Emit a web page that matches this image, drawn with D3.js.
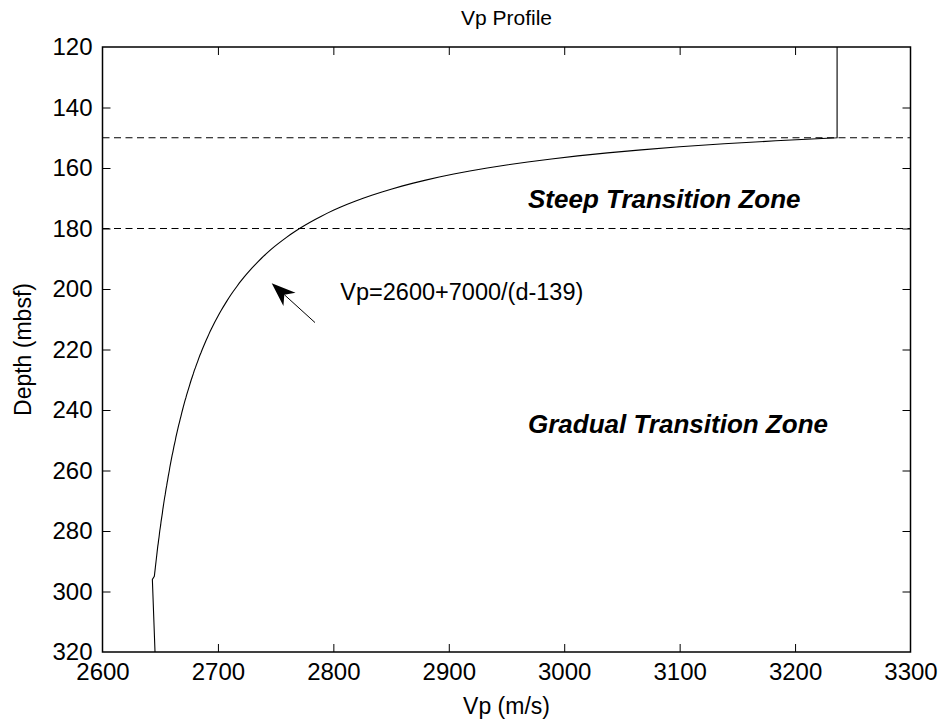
<!DOCTYPE html>
<html>
<head>
<meta charset="utf-8">
<script src="https://cdn.jsdelivr.net/npm/d3@7"></script>
<style>
  html, body { margin: 0; padding: 0; background: #fff; }
  svg { display: block; font-family: "Liberation Sans", Arial, sans-serif; }
</style>
</head>
<body>
<svg id="chart" width="941" height="726"></svg>
<script>
// Velocity profile: depth (mbsf) and P-wave velocity (m/s)
const depth = [
  120, 150,
  151, 152, 153, 154, 155, 156, 157, 158, 159, 160,
  161, 162, 163, 164, 165, 166, 167, 168, 169, 170,
  171, 172, 173, 174, 175, 176, 177, 178, 179, 180,
  181, 182, 183, 184, 185, 186, 187, 188, 189, 190,
  191, 192, 193, 194, 195, 196, 197, 198, 199, 200,
  201, 202, 203, 204, 205, 206, 207, 208, 209, 210,
  211, 212, 213, 214, 215, 216, 217, 218, 219, 220,
  221, 222, 223, 224, 225, 226, 227, 228, 229, 230,
  231, 232, 233, 234, 235, 236, 237, 238, 239, 240,
  241, 242, 243, 244, 245, 246, 247, 248, 249, 250,
  251, 252, 253, 254, 255, 256, 257, 258, 259, 260,
  261, 262, 263, 264, 265, 266, 267, 268, 269, 270,
  271, 272, 273, 274, 275, 276, 277, 278, 279, 280,
  281, 282, 283, 284, 285, 286, 287, 288, 289, 290,
  291, 292, 293, 294, 295,
  296, 320
];
const vp = [
  3236.4, 3236.4,
  3183.3, 3138.5, 3100.0, 3066.7, 3037.5, 3011.8, 2988.9, 2968.4, 2950.0, 2933.3,
  2918.2, 2904.3, 2891.7, 2880.0, 2869.2, 2859.3, 2850.0, 2841.4, 2833.3, 2825.8,
  2818.8, 2812.1, 2805.9, 2800.0, 2794.4, 2789.2, 2784.2, 2779.5, 2775.0, 2770.7,
  2766.7, 2762.8, 2759.1, 2755.6, 2752.2, 2748.9, 2745.8, 2742.9, 2740.0, 2737.3,
  2734.6, 2732.1, 2729.6, 2727.3, 2725.0, 2722.8, 2720.7, 2718.6, 2716.7, 2714.8,
  2712.9, 2711.1, 2709.4, 2707.7, 2706.1, 2704.5, 2702.9, 2701.4, 2700.0, 2698.6,
  2697.2, 2695.9, 2694.6, 2693.3, 2692.1, 2690.9, 2689.7, 2688.6, 2687.5, 2686.4,
  2685.4, 2684.3, 2683.3, 2682.4, 2681.4, 2680.5, 2679.5, 2678.7, 2677.8, 2676.9,
  2676.1, 2675.3, 2674.5, 2673.7, 2672.9, 2672.2, 2671.4, 2670.7, 2670.0, 2669.3,
  2668.6, 2668.0, 2667.3, 2666.7, 2666.0, 2665.4, 2664.8, 2664.2, 2663.6, 2663.1,
  2662.5, 2661.9, 2661.4, 2660.9, 2660.3, 2659.8, 2659.3, 2658.8, 2658.3, 2657.9,
  2657.4, 2656.9, 2656.5, 2656.0, 2655.6, 2655.1, 2654.7, 2654.3, 2653.8, 2653.4,
  2653.0, 2652.6, 2652.2, 2651.9, 2651.5, 2651.1, 2650.7, 2650.4, 2650.0, 2649.6,
  2649.3, 2649.0, 2648.6, 2648.3, 2647.9, 2647.6, 2647.3, 2647.0, 2646.7, 2646.4,
  2646.1, 2645.8, 2645.5, 2645.2, 2644.9,
  2643.2, 2645.5
];

// Zone boundaries (depth, mbsf)
const zoneBounds = [150, 180];

// Axis ticks
const xTicks = [2600, 2700, 2800, 2900, 3000, 3100, 3200, 3300];
const yTicks = [120, 140, 160, 180, 200, 220, 240, 260, 280, 300, 320];

// Text annotations placed in data coordinates
const zoneLabels = [
  { text: "Steep Transition Zone", vp: 2968.6, depth: 173.2 },
  { text: "Gradual Transition Zone", vp: 2968.6, depth: 247.6 }
];
const formulaLabel = { text: "Vp=2600+7000/(d-139)", vp: 2806, depth: 203.8 };
const arrowTail = { vp: 2784.1, depth: 211.1 };
const arrowTip = { vp: 2746.6, depth: 198.1 };

const svg = d3.select("#chart");
const plot = { left: 102.5, right: 910.5, top: 47, bottom: 652 };

const x = d3.scaleLinear().domain([2600, 3300]).range([plot.left, plot.right]);
const y = d3.scaleLinear().domain([120, 320]).range([plot.top, plot.bottom]);

const tickFont = 24;
const fmt = d3.format("d");

// Ticks pointing into the plot on all four sides
const tickLen = 8;
const gx = svg.append("g").attr("transform", `translate(0,${plot.bottom})`)
  .call(d3.axisBottom(x).tickValues(xTicks).tickFormat(fmt).tickSizeInner(-tickLen).tickSizeOuter(0).tickPadding(11));
const gxTop = svg.append("g").attr("transform", `translate(0,${plot.top})`)
  .call(d3.axisTop(x).tickValues(xTicks).tickSizeInner(-tickLen).tickSizeOuter(0).tickFormat(""));
const gy = svg.append("g").attr("transform", `translate(${plot.left},0)`)
  .call(d3.axisLeft(y).tickValues(yTicks).tickFormat(fmt).tickSizeInner(-tickLen).tickSizeOuter(0).tickPadding(10));
const gyRight = svg.append("g").attr("transform", `translate(${plot.right},0)`)
  .call(d3.axisRight(y).tickValues(yTicks).tickSizeInner(-tickLen).tickSizeOuter(0).tickFormat(""));

[gx, gxTop, gy, gyRight].forEach(g => {
  g.select(".domain").remove();
  g.selectAll(".tick line").attr("stroke", "#000").attr("stroke-width", 1);
  g.selectAll(".tick text")
    .attr("fill", "#000")
    .style("font-size", tickFont + "px")
    .style("font-family", "'Liberation Sans', Arial, sans-serif");
});
// end ticks sit on the frame itself
[gx, gxTop].forEach(g => g.selectAll(".tick").filter(d => d === 2600 || d === 3300).select("line").remove());
[gy, gyRight].forEach(g => g.selectAll(".tick").filter(d => d === 120 || d === 320).select("line").remove());

// Zone boundary lines
svg.append("g").selectAll("line").data(zoneBounds).join("line")
  .attr("x1", x(2600)).attr("x2", x(3300))
  .attr("y1", d => y(d)).attr("y2", d => y(d))
  .attr("stroke", "#000").attr("stroke-width", 1)
  .attr("stroke-dasharray", "7,4.5");

// Velocity profile
const pts = depth.map((d, i) => [vp[i], d]);
svg.append("path")
  .datum(pts)
  .attr("fill", "none")
  .attr("stroke", "#000")
  .attr("stroke-width", 1.1)
  .attr("d", d3.line().x(p => x(p[0])).y(p => y(p[1])));

// Plot frame
svg.append("rect")
  .attr("x", plot.left).attr("y", plot.top)
  .attr("width", plot.right - plot.left).attr("height", plot.bottom - plot.top)
  .attr("fill", "none").attr("stroke", "#000").attr("stroke-width", 1.5);

// Zone labels
svg.append("g").selectAll("text").data(zoneLabels).join("text")
  .attr("x", d => x(d.vp)).attr("y", d => y(d.depth))
  .attr("font-size", 26).attr("font-weight", "bold").attr("font-style", "italic")
  .attr("fill", "#000")
  .text(d => d.text);

// Formula label and arrow
svg.append("text")
  .attr("x", x(formulaLabel.vp)).attr("y", y(formulaLabel.depth))
  .attr("font-size", 23.5).attr("fill", "#000")
  .text(formulaLabel.text);

const tx = x(arrowTip.vp), ty = y(arrowTip.depth);
const sx = x(arrowTail.vp), sy = y(arrowTail.depth);
const ang = Math.atan2(ty - sy, tx - sx);
const headLen = 24, headHalf = 9, notch = 17;
const ux = Math.cos(ang), uy = Math.sin(ang);
const px = -uy, py = ux;
svg.append("line")
  .attr("x1", sx).attr("y1", sy)
  .attr("x2", tx - ux * notch).attr("y2", ty - uy * notch)
  .attr("stroke", "#000").attr("stroke-width", 1);
svg.append("path")
  .attr("d", `M${tx},${ty}` +
    `L${tx - ux * headLen + px * headHalf},${ty - uy * headLen + py * headHalf}` +
    `L${tx - ux * notch},${ty - uy * notch}` +
    `L${tx - ux * headLen - px * headHalf},${ty - uy * headLen - py * headHalf}Z`)
  .attr("fill", "#000");

// Titles
svg.append("text")
  .attr("x", (plot.left + plot.right) / 2).attr("y", 25)
  .attr("text-anchor", "middle").attr("font-size", 21).attr("fill", "#000")
  .text("Vp Profile");
svg.append("text")
  .attr("x", (plot.left + plot.right) / 2).attr("y", 714)
  .attr("text-anchor", "middle").attr("font-size", 23).attr("fill", "#000")
  .text("Vp (m/s)");
svg.append("text")
  .attr("transform", `translate(31,${(plot.top + plot.bottom) / 2}) rotate(-90)`)
  .attr("text-anchor", "middle").attr("font-size", 23).attr("fill", "#000")
  .text("Depth (mbsf)");
</script>
</body>
</html>
